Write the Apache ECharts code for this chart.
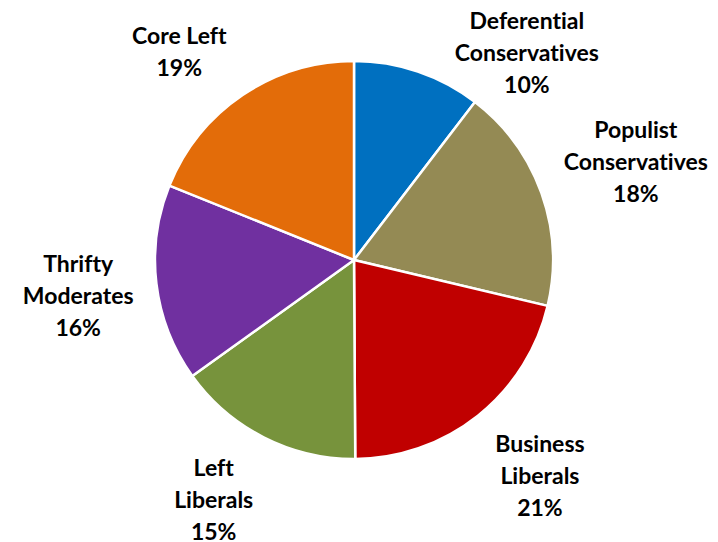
<!DOCTYPE html>
<html>
<head>
<meta charset="utf-8">
<script src="https://cdn.jsdelivr.net/npm/echarts@6/dist/echarts.min.js"></script>
<style>
  html, body { margin: 0; padding: 0; background: #ffffff; }
  #chart { width: 718px; height: 542px; }
  #chart text { font-variant-ligatures: none; font-feature-settings: "liga" 0, "clig" 0; }
</style>
</head>
<body>
<div id="chart"></div>
<script>
// Segment names (line breaks as in the labels)
const categories = [
  'Deferential\nConservatives',
  'Populist\nConservatives',
  'Business\nLiberals',
  'Left\nLiberals',
  'Thrifty\nModerates',
  'Core Left'
];
// Shares in percent (labels show them rounded)
const shares = [10.4, 18.3, 21.2, 15.2, 16.0, 18.9];
// Shown percentage labels
const percentLabels = ['10%', '18%', '21%', '15%', '16%', '19%'];
const colors = ['#0070C0', '#948A54', '#C00000', '#77933C', '#7030A0', '#E36C09'];

const CX = 354, CY = 260, R = 199, GAP = 15, KX = 2, KY = 1.7, PAD_X = 8, EDGE = 4, CORNER_INSET = 10;

const total = shares.reduce((a, b) => a + b, 0);
const mids = [];
let acc = 0;
shares.forEach(v => { mids.push((acc + v / 2) / total * 2 * Math.PI); acc += v; });

const clamp1 = v => Math.max(-1, Math.min(1, v));

const chart = echarts.init(document.getElementById('chart'), null, { renderer: 'svg' });
chart.setOption({
  animation: false,
  backgroundColor: '#ffffff',
  series: [{
    type: 'pie',
    center: [CX, CY],
    radius: [0, R],
    startAngle: 90,
    clockwise: true,
    avoidLabelOverlap: false,
    itemStyle: { borderColor: '#ffffff', borderWidth: 2.5 },
    emphasis: { disabled: true },
    label: {
      show: true,
      position: 'outside',
      fontFamily: 'Lato',
      fontWeight: 'bold',
      fontSize: 23,
      lineHeight: 32,
      color: '#000000',
      formatter: p => categories[p.dataIndex] + '\n' + percentLabels[p.dataIndex]
    },
    labelLine: { show: false },
    labelLayout: function (p) {
      const a = mids[p.dataIndex];
      const sx = Math.sin(a), sy = -Math.cos(a);
      const w = p.labelRect.width, h = p.labelRect.height;
      // anchor point just outside the slice's middle
      const px = CX + sx * (R + GAP), py = CY + sy * (R + GAP);
      let x = px + clamp1(KX * sx) * (w / 2 + PAD_X);
      let y = py + clamp1(KY * sy) * h / 2;
      if (y - h / 2 < EDGE) {
        // keep inside the chart and slide sideways until clear of the pie
        y = EDGE + h / 2;
        const dy = (y + h / 2) - CY;
        const rr = R - CORNER_INSET;
        const half = Math.sqrt(Math.max(rr * rr - dy * dy, 0));
        x = sx >= 0 ? CX + half + w / 2 : CX - half - w / 2;
      }
      return { x: x, y: y, align: 'center', verticalAlign: 'middle' };
    },
    data: categories.map((c, i) => ({
      name: c,
      value: shares[i],
      itemStyle: { color: colors[i] }
    }))
  }]
});
</script>
</body>
</html>
